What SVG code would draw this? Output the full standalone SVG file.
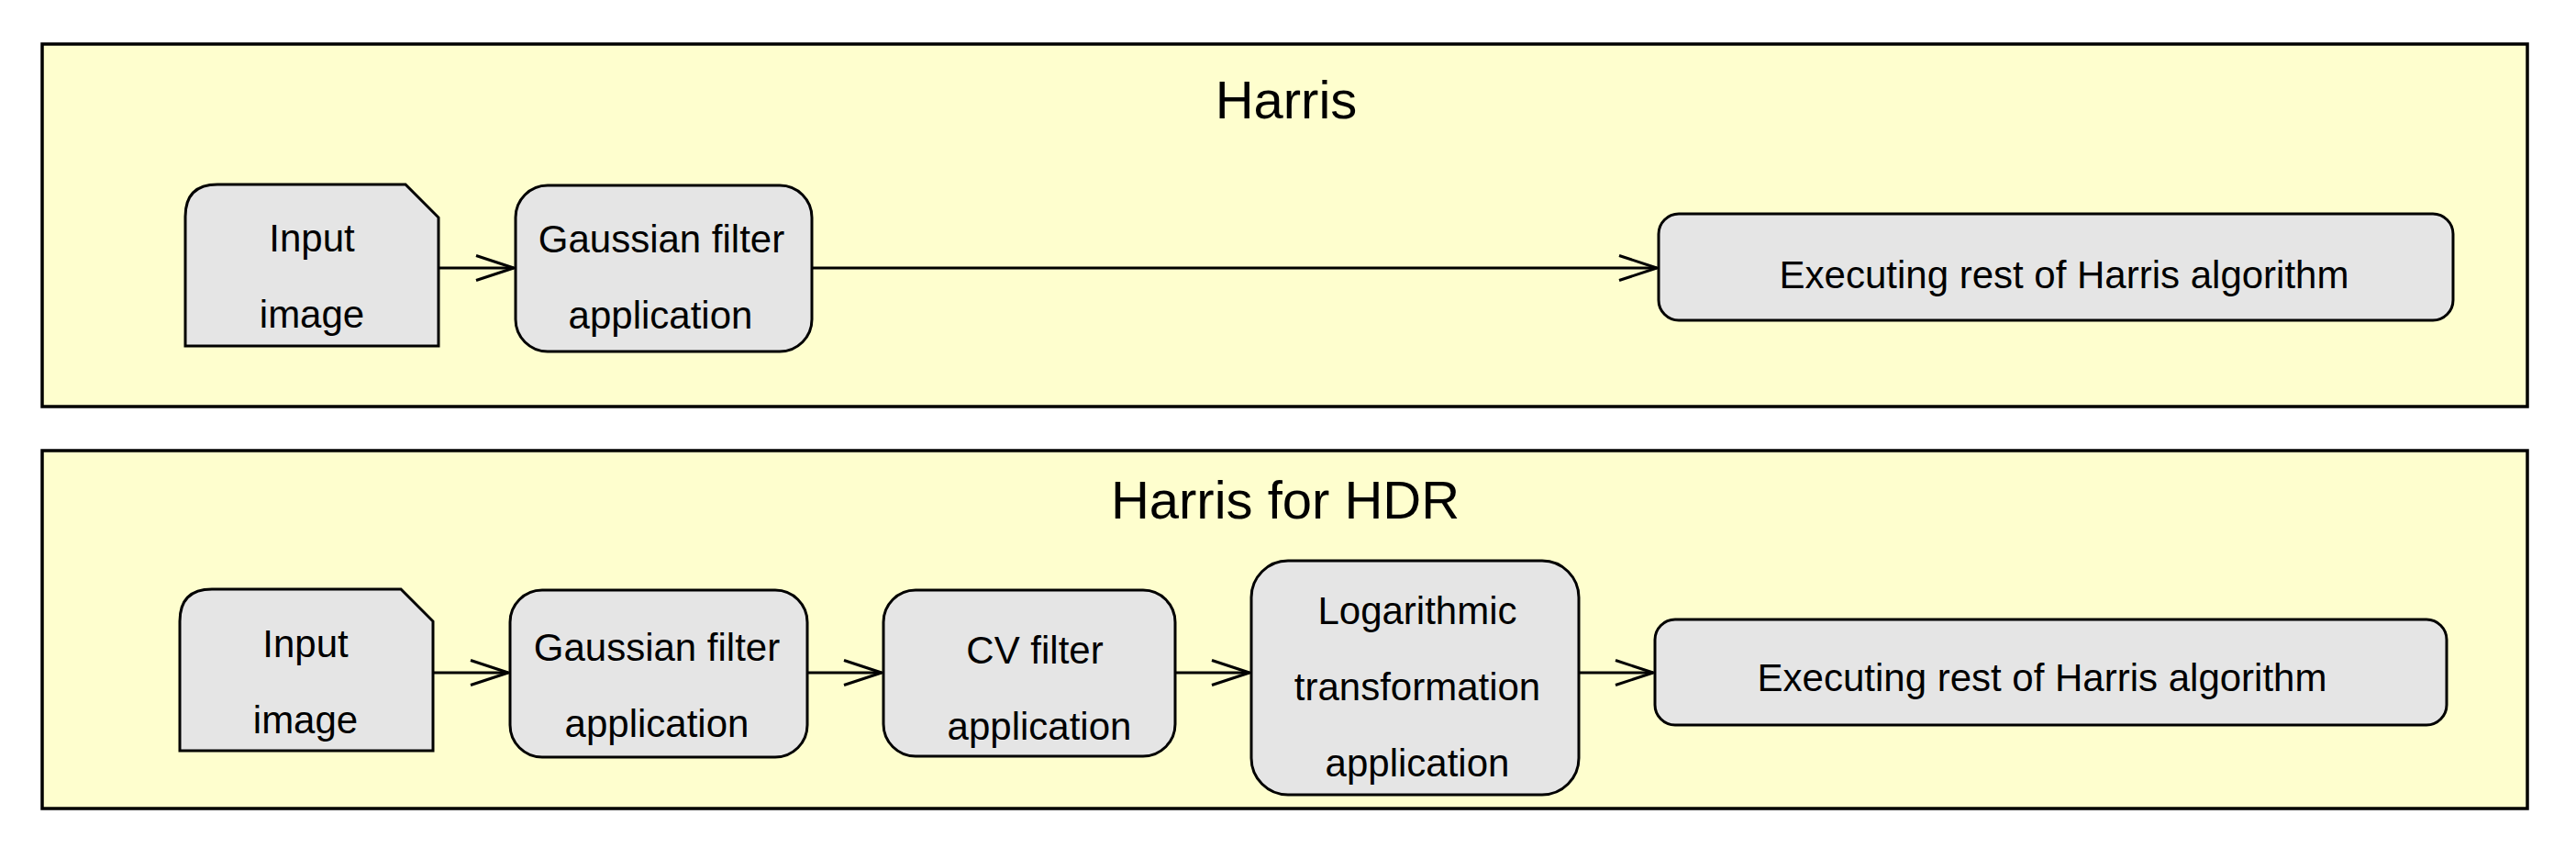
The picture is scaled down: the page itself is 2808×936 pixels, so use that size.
<svg xmlns="http://www.w3.org/2000/svg" width="2808" height="936" viewBox="0 0 2808 936">
<defs>
<style>
.frame{fill:#FEFECE;stroke:#000;stroke-width:3.5}
.node{fill:#E5E5E5;stroke:#000;stroke-width:3}
.title{font-family:"Liberation Sans",Arial,sans-serif;font-size:58px;fill:#000;text-anchor:middle}
.lbl{font-family:"Liberation Sans",Arial,sans-serif;font-size:42px;fill:#000;text-anchor:middle}
.edge{fill:none;stroke:#000;stroke-width:3;marker-end:url(#arr)}
</style>
<marker id="arr" viewBox="0 0 44 30" refX="42" refY="15" markerWidth="44" markerHeight="30" markerUnits="userSpaceOnUse" orient="auto">
<path d="M1,1.5 L42,15 L1,28.5" fill="none" stroke="#000" stroke-width="3"/>
</marker>
</defs>
<rect width="2808" height="936" fill="#fff"/>
<g id="partition-harris">
<rect class="frame" x="46" y="48" width="2709" height="395"/>
<text class="title" x="1402" y="129">Harris</text>
</g>
<g id="partition-hdr">
<rect class="frame" x="46" y="491" width="2709" height="390"/>
<text class="title" x="1401" y="565">Harris for HDR</text>
</g>
<g id="h-input">
<path class="node" d="M202,377 L202,236 Q202,201 237,201 L442,201 L478,237 L478,377 Z"/>
<text class="lbl" x="340" y="274">Input</text>
<text class="lbl" x="340" y="357">image</text>
</g>
<g id="h-gauss">
<rect class="node" x="562" y="202" width="323" height="181" rx="35" ry="35"/>
<text class="lbl" x="721" y="275">Gaussian filter</text>
<text class="lbl" x="720" y="358">application</text>
</g>
<g id="h-exec">
<rect class="node" x="1808" y="233" width="866" height="116" rx="22" ry="22"/>
<text class="lbl" x="2250" y="314">Executing rest of Harris algorithm</text>
</g>
<g id="d-input">
<path class="node" d="M196,818 L196,677 Q196,642 231,642 L437,642 L472,677 L472,818 Z"/>
<text class="lbl" x="333" y="716">Input</text>
<text class="lbl" x="333" y="799">image</text>
</g>
<g id="d-gauss">
<rect class="node" x="556" y="643" width="324" height="182" rx="35" ry="35"/>
<text class="lbl" x="716" y="720">Gaussian filter</text>
<text class="lbl" x="716" y="803">application</text>
</g>
<g id="d-cv">
<rect class="node" x="963" y="643" width="318" height="181" rx="35" ry="35"/>
<text class="lbl" x="1128" y="723">CV filter</text>
<text class="lbl" x="1133" y="806">application</text>
</g>
<g id="d-log">
<rect class="node" x="1364" y="611" width="357" height="255" rx="40" ry="40"/>
<text class="lbl" x="1545" y="680">Logarithmic</text>
<text class="lbl" x="1545" y="763">transformation</text>
<text class="lbl" x="1545" y="846">application</text>
</g>
<g id="d-exec">
<rect class="node" x="1804" y="675" width="863" height="115" rx="22" ry="22"/>
<text class="lbl" x="2226" y="753">Executing rest of Harris algorithm</text>
</g>
<g id="connectors">
<path class="edge" d="M479,292 L560,292"/>
<path class="edge" d="M886,292 L1806,292"/>
<path class="edge" d="M473,733 L554,733"/>
<path class="edge" d="M881,733 L961,733"/>
<path class="edge" d="M1282,733 L1362,733"/>
<path class="edge" d="M1722,733 L1802,733"/>
</g>
</svg>
